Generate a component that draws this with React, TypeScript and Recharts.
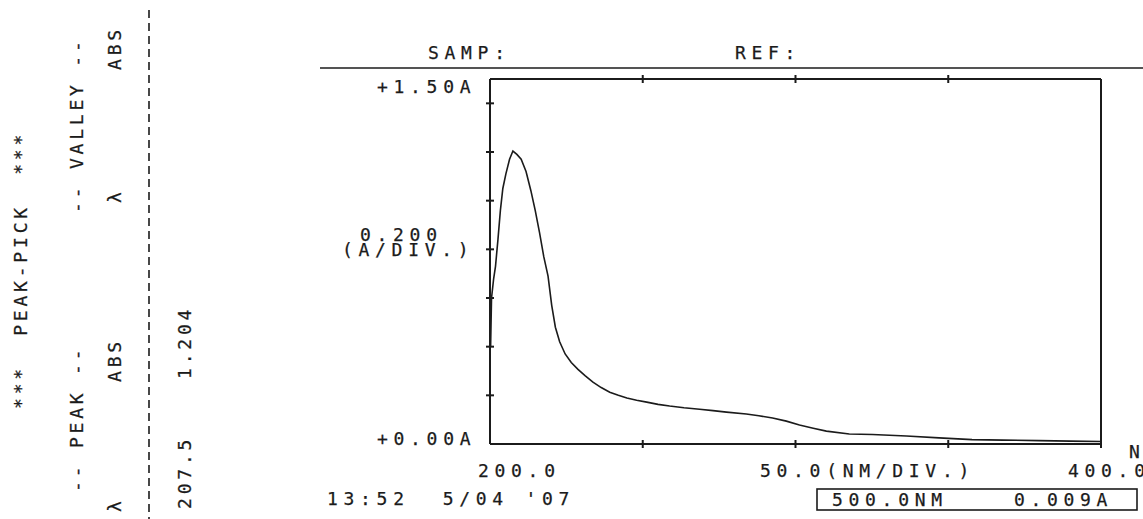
import * as React from "react";
import { LineChart, Line, XAxis, YAxis } from "recharts";

// absorbance spectrum
const WAVELENGTH = [
  200.2, 200.5, 201.2, 201.8, 202.6, 203.4, 204.2, 205.2, 206.4, 207.5, 208.8, 210.2, 211.8,
  213.4, 214.8, 216.2, 217.6, 219.0, 220.2, 221.4, 222.8, 224.6, 226.6, 228.8, 231.2, 233.7,
  236.4, 239.2, 242.0, 244.8, 248.0, 251.3, 255.0, 258.8, 263.5, 268.6, 273.0, 277.4, 283.9,
  288.0, 292.5, 297.0, 301.3, 305.8, 310.1, 317.6, 325.2, 336.3, 347.0, 357.8, 368.0, 379.7,
  390.0, 400.0,
];
const ABSORBANCE = [
  0.4, 0.6, 0.68, 0.73, 0.84, 0.96, 1.05, 1.11, 1.17, 1.204, 1.19, 1.17, 1.12, 1.04, 0.96, 0.87,
  0.77, 0.69, 0.57, 0.48, 0.42, 0.37, 0.335, 0.307, 0.28, 0.254, 0.232, 0.213, 0.2, 0.189, 0.18,
  0.172, 0.163, 0.156, 0.149, 0.143, 0.137, 0.131, 0.123, 0.116, 0.107, 0.094, 0.078, 0.065,
  0.053, 0.041, 0.039, 0.033, 0.025, 0.018, 0.016, 0.014, 0.012, 0.01,
];

const X_TICKS = [200, 250, 300, 350, 400];
const Y_TICKS = [0, 0.2, 0.4, 0.6, 0.8, 1.0, 1.2, 1.4, 1.5];
const X_LABELS: Record<number, string> = { 200: "200.0", 400: "400.0" };
const Y_LABELS: Record<number, string> = { 0: "+0.00A", 1.5: "+1.50A" };

const PEAK_NM = "207.5";
const PEAK_ABS = "1.204";

const INK = "#1b1b1b";
const FONT: React.CSSProperties = {
  fontFamily: "'DejaVu Sans Mono', monospace",
  fontSize: 18,
  letterSpacing: 5.7,
  fill: INK,
  stroke: INK,
  strokeWidth: 0.25,
  whiteSpace: "pre",
};
const V_FONT: React.CSSProperties = { ...FONT, letterSpacing: 3.8 };
const MARK = 4;

const data = WAVELENGTH.map((nm, i) => ({ nm, abs: ABSORBANCE[i] }));

function Txt({ x, y, children }: { x: number; y: number; children: React.ReactNode }) {
  return (
    <text x={x} y={y} style={FONT}>
      {children}
    </text>
  );
}

// rotated text, reads bottom to top
function VTxt({ x, y, children }: { x: number; y: number; children: React.ReactNode }) {
  return (
    <text x={x} y={y} transform={`rotate(-90 ${x} ${y})`} style={V_FONT}>
      {children}
    </text>
  );
}

function LeftTick(p: any) {
  const v = p.payload.value;
  const label = Y_LABELS[v];
  return (
    <g>
      {!label && <line x1={p.x - MARK} x2={p.x + MARK} y1={p.y} y2={p.y} stroke={INK} strokeWidth={2} />}
      {label && <Txt x={p.x - 113} y={p.y + (v > 0 ? 14 : 1)}>{label}</Txt>}
    </g>
  );
}

function RightTick(p: any) {
  const v = p.payload.value;
  if (v <= 0 || v >= 1.5) return <g />;
  return <line x1={p.x - MARK} x2={p.x + MARK} y1={p.y} y2={p.y} stroke={INK} strokeWidth={2} />;
}

function BottomTick(p: any) {
  const v = p.payload.value;
  const label = X_LABELS[v];
  return (
    <g>
      {v > 200 && <line x1={p.x} x2={p.x} y1={p.y - MARK} y2={p.y + MARK} stroke={INK} strokeWidth={2} />}
      {label && <Txt x={p.x + (v === 200 ? -12 : -33)} y={p.y + 33}>{label}</Txt>}
    </g>
  );
}

function TopTick(p: any) {
  const v = p.payload.value;
  if (v <= 200 || v >= 400) return <g />;
  return <line x1={p.x} x2={p.x} y1={p.y - MARK} y2={p.y + MARK} stroke={INK} strokeWidth={2} />;
}

export default function App() {
  const axisLine = { stroke: INK, strokeWidth: 2 };
  return (
    <div style={{ position: "relative", width: 1143, height: 519, background: "#fff" }}>
      <style>{"body{margin:0}"}</style>
      <LineChart width={1143} height={519} data={data} margin={{ top: 78, right: 41, bottom: 74, left: 489 }}>
        <XAxis
          dataKey="nm"
          type="number"
          domain={[200, 400]}
          ticks={X_TICKS}
          interval={0}
          height={1}
          tickSize={0}
          tickMargin={0}
          tickLine={false}
          axisLine={axisLine}
          tick={BottomTick}
        />
        <XAxis
          xAxisId="top"
          orientation="top"
          dataKey="nm"
          type="number"
          domain={[200, 400]}
          ticks={X_TICKS}
          interval={0}
          height={1}
          tickSize={0}
          tickMargin={0}
          tickLine={false}
          axisLine={axisLine}
          tick={TopTick}
        />
        <YAxis
          type="number"
          domain={[0, 1.5]}
          ticks={Y_TICKS}
          interval={0}
          width={1}
          tickSize={0}
          tickMargin={0}
          tickLine={false}
          axisLine={axisLine}
          tick={LeftTick}
        />
        <YAxis
          yAxisId="r"
          orientation="right"
          type="number"
          domain={[0, 1.5]}
          ticks={Y_TICKS}
          interval={0}
          width={1}
          tickSize={0}
          tickMargin={0}
          tickLine={false}
          axisLine={axisLine}
          tick={RightTick}
        />
        <Line
          dataKey="abs"
          type="linear"
          stroke={INK}
          strokeWidth={1.6}
          dot={false}
          isAnimationActive={false}
        />
      </LineChart>

      <svg
        width={1143}
        height={519}
        style={{ position: "absolute", left: 0, top: 0, pointerEvents: "none" }}
      >
        {/* peak-pick side panel */}
        <VTxt x={27} y={409}>{"***  PEAK-PICK  ***"}</VTxt>
        <VTxt x={83} y={492}>{"-- PEAK --"}</VTxt>
        <VTxt x={83} y={213}>{"-- VALLEY --"}</VTxt>
        <VTxt x={121} y={512}>λ</VTxt>
        <VTxt x={121} y={382}>ABS</VTxt>
        <VTxt x={121} y={203}>λ</VTxt>
        <VTxt x={121} y={70}>ABS</VTxt>
        <line x1={149} x2={149} y1={10} y2={519} stroke={INK} strokeWidth={1.6} strokeDasharray="8 5" />
        <VTxt x={191} y={509}>{PEAK_NM}</VTxt>
        <VTxt x={191} y={379}>{PEAK_ABS}</VTxt>

        {/* header */}
        <Txt x={428} y={59}>SAMP:</Txt>
        <Txt x={735} y={59}>REF:</Txt>
        <line x1={320} x2={1143} y1={68} y2={68} stroke={INK} strokeWidth={1.6} />

        {/* scale notes */}
        <Txt x={360} y={241}>0.200</Txt>
        <Txt x={342} y={256}>(A/DIV.)</Txt>
        <Txt x={760} y={477}>50.0(NM/DIV.)</Txt>
        <Txt x={1129} y={458}>N</Txt>

        {/* footer */}
        <Txt x={327} y={505}>{"13:52  5/04 '07"}</Txt>
        <rect x={817} y={489} width={320} height={21} fill="none" stroke={INK} strokeWidth={1.6} />
        <Txt x={832} y={506}>{"500.0NM    0.009A"}</Txt>
      </svg>
    </div>
  );
}
